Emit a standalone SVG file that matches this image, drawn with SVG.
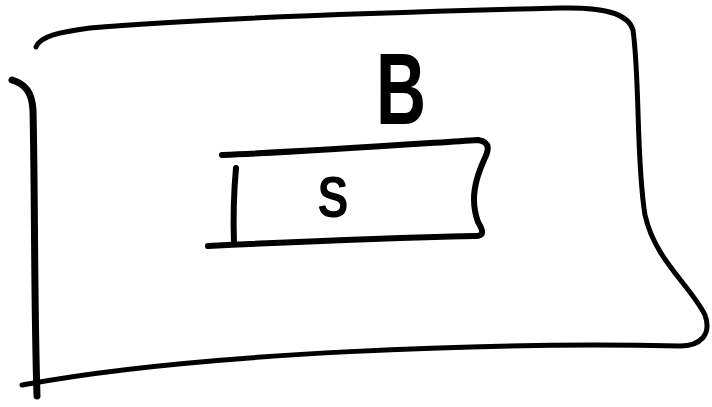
<svg xmlns="http://www.w3.org/2000/svg" width="712" height="407" viewBox="0 0 712 407">
<style>
.s{fill:none;stroke:#000;stroke-linecap:round;stroke-linejoin:round}
.t{font-family:"Liberation Sans",Arial,sans-serif;fill:#000;font-weight:bold}
</style>
<rect width="712" height="407" fill="#fff"/>
<g id="B">
<path class="s" stroke-width="5" d="M36,47 C40,36 60,32 90,28 C200,18 400,12 560,8 C600,7 628,12 633,30 C640,80 636,160 645,215 C655,260 690,285 705,315 C712,335 700,346 680,346 C500,342 200,352 22,385"/>
<path class="s" stroke-width="7" d="M12,80 C25,84 32,92 33,110 C35,200 34,300 37,396"/>
<text class="t" font-size="102" text-anchor="middle" transform="translate(401,124) scale(0.68,1)">B</text>
</g>
<g id="S">
<path class="s" stroke-width="6" d="M222,155 C300,152 400,145 478,140 C492,142 488,152 484,160 C475,180 470,200 478,222 C484,232 484,236 475,236 C380,238 290,242 208,246"/>
<path class="s" stroke-width="6" d="M236,168 C234,190 233,215 234,243"/>
<text class="t" font-size="58" text-anchor="middle" transform="translate(333,217) scale(0.8,1)">S</text>
</g>
<g id="connectors"></g>
</svg>
